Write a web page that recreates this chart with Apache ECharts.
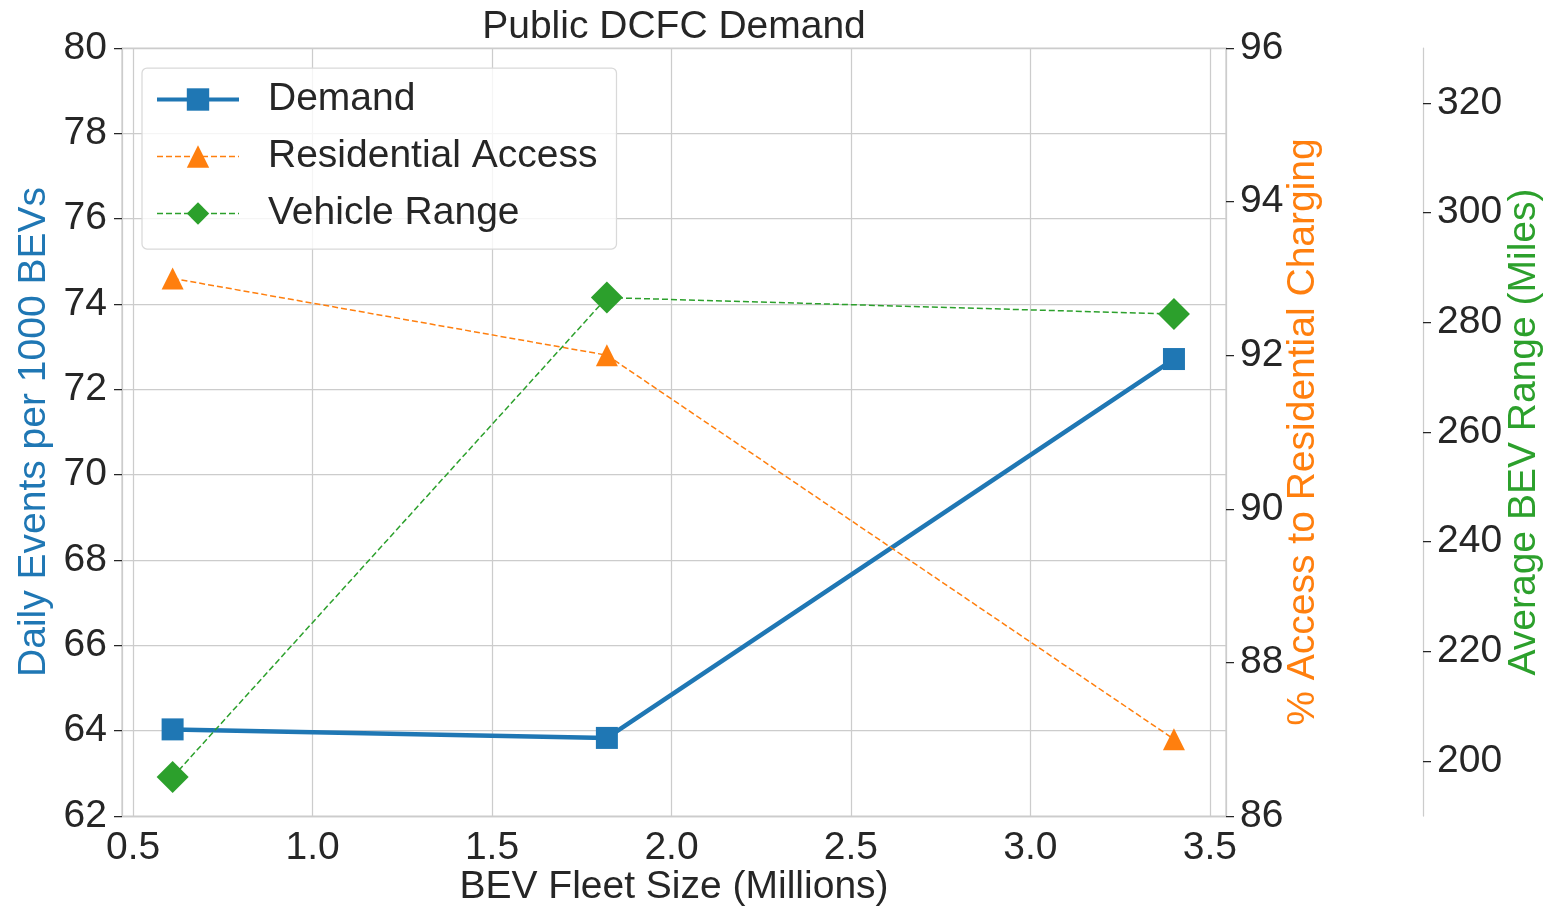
<!DOCTYPE html>
<html>
<head>
<meta charset="utf-8">
<script src="https://cdn.jsdelivr.net/npm/echarts@6/dist/echarts.min.js"></script>
<style>
html,body{margin:0;padding:0;background:#fff;}
#chart{width:1562px;height:913px;}
</style>
</head>
<body>
<div id="chart"></div>
<script>
// ---- data ----
const fleetSize = [0.61, 1.82, 3.40];                 // BEV fleet size (millions)
const demand = [64.03, 63.83, 72.71];                  // daily events per 1000 BEVs
const residentialAccess = [93.0, 92.0, 87.0];          // % access to residential charging
const vehicleRange = [197.1, 284.5, 281.5];            // average BEV range (miles)
const xTicks = [0.5, 1.0, 1.5, 2.0, 2.5, 3.0, 3.5];
const rangeTicks = [200, 220, 240, 260, 280, 300, 320];
const seriesNames = ['Demand', 'Residential Access', 'Vehicle Range'];

const FONT = "'Liberation Sans', Arial, sans-serif";
const FS = 39;
const TXT = '#262626';
const SPINE = '#cccccc';
const BLUE = '#1f77b4', ORANGE = '#ff7f0e', GREEN = '#2ca02c';

function pairs(xs, ys) { return xs.map((x, i) => [x, ys[i]]); }

const chart = echarts.init(document.getElementById('chart'), null, {renderer: 'canvas'});
const option = {
  animation: false,
  backgroundColor: '#fff',
  textStyle: {fontFamily: FONT},
  title: {
    text: 'Public DCFC Demand',
    left: 674, top: 8, padding: 0, textAlign: 'center',
    textStyle: {fontFamily: FONT, fontSize: FS, fontWeight: 'normal', color: TXT}
  },
  grid: {
    left: 122, right: 336, top: 48, bottom: 97,
    show: true, borderColor: SPINE, borderWidth: 1.25, backgroundColor: 'transparent'
  },
  legend: {
    data: [
      {name: seriesNames[0], lineStyle: {width: 4}},
      {name: seriesNames[1], lineStyle: {width: 1.5}},
      {name: seriesNames[2], lineStyle: {width: 1.5}}
    ],
    orient: 'vertical',
    left: 142, top: 68,
    padding: [12, 19, 16, 13],
    itemWidth: 82, itemHeight: 28, itemGap: 18,
    backgroundColor: 'rgba(255,255,255,0.8)',
    borderColor: '#d9d9d9', borderWidth: 1.25, borderRadius: 5,
    lineStyle: {width: 'inherit'},
    textStyle: {fontFamily: FONT, fontSize: FS, color: TXT, lineHeight: 39, padding: [0, 0, 0, 24]}
  },
  xAxis: {
    type: 'value',
    min: 0.469, max: 3.545,
    name: 'BEV Fleet Size (Millions)',
    nameLocation: 'middle', nameGap: 52, nameMoveOverlap: false,
    nameTextStyle: {fontFamily: FONT, fontSize: FS, color: TXT},
    axisLine: {show: true, lineStyle: {color: SPINE, width: 1.25}},
    axisTick: {show: false, customValues: xTicks},
    axisLabel: {customValues: xTicks, fontFamily: FONT, fontSize: FS, color: TXT, margin: 13,
      formatter: v => v.toFixed(1)},
    splitLine: {show: true, lineStyle: {color: SPINE, width: 1.25}}
  },
  yAxis: [
    {
      type: 'value', position: 'left',
      min: 62, max: 80, interval: 2,
      name: 'Daily Events per 1000 BEVs',
      nameLocation: 'middle', nameGap: 68, nameMoveOverlap: false,
      nameTextStyle: {fontFamily: FONT, fontSize: FS, color: BLUE},
      axisLine: {show: true, lineStyle: {color: SPINE, width: 1.25}},
      axisTick: {show: true, length: 8, lineStyle: {color: TXT, width: 1.25}},
      axisLabel: {fontFamily: FONT, fontSize: FS, color: TXT, margin: 15},
      splitLine: {show: true, lineStyle: {color: SPINE, width: 1.25}}
    },
    {
      type: 'value', position: 'right',
      min: 86, max: 96, interval: 2,
      name: '% Access to Residential Charging',
      nameLocation: 'middle', nameGap: 58, nameMoveOverlap: false,
      nameTextStyle: {fontFamily: FONT, fontSize: FS, color: ORANGE},
      axisLine: {show: true, lineStyle: {color: SPINE, width: 1.25}},
      axisTick: {show: true, length: 8, lineStyle: {color: TXT, width: 1.25}},
      axisLabel: {fontFamily: FONT, fontSize: FS, color: TXT, margin: 14},
      splitLine: {show: false}
    },
    {
      type: 'value', position: 'right', offset: 197,
      min: 190, max: 330,
      name: 'Average BEV Range (Miles)',
      nameLocation: 'middle', nameGap: 82, nameMoveOverlap: false,
      nameTextStyle: {fontFamily: FONT, fontSize: FS, color: GREEN},
      axisLine: {show: true, lineStyle: {color: SPINE, width: 1.25}},
      axisTick: {show: true, length: 8, customValues: rangeTicks, lineStyle: {color: TXT, width: 1.25}},
      axisLabel: {customValues: rangeTicks, fontFamily: FONT, fontSize: FS, color: TXT, margin: 14},
      splitLine: {show: false}
    }
  ],
  series: [
    {
      name: seriesNames[0], type: 'line', yAxisIndex: 0,
      data: pairs(fleetSize, demand),
      symbol: 'rect', symbolSize: 22,
      lineStyle: {color: BLUE, width: 4.5},
      itemStyle: {color: BLUE},
      emphasis: {disabled: true}, z: 2
    },
    {
      name: seriesNames[1], type: 'line', yAxisIndex: 1,
      data: pairs(fleetSize, residentialAccess),
      symbol: 'triangle', symbolSize: 22,
      lineStyle: {color: ORANGE, width: 1.5, type: [6, 3]},
      itemStyle: {color: ORANGE},
      emphasis: {disabled: true}, z: 3
    },
    {
      name: seriesNames[2], type: 'line', yAxisIndex: 2,
      data: pairs(fleetSize, vehicleRange),
      symbol: 'diamond', symbolSize: 32,
      lineStyle: {color: GREEN, width: 1.5, type: [6, 3]},
      itemStyle: {color: GREEN},
      emphasis: {disabled: true}, z: 4
    }
  ]
};
chart.setOption(option);
</script>
</body>
</html>
